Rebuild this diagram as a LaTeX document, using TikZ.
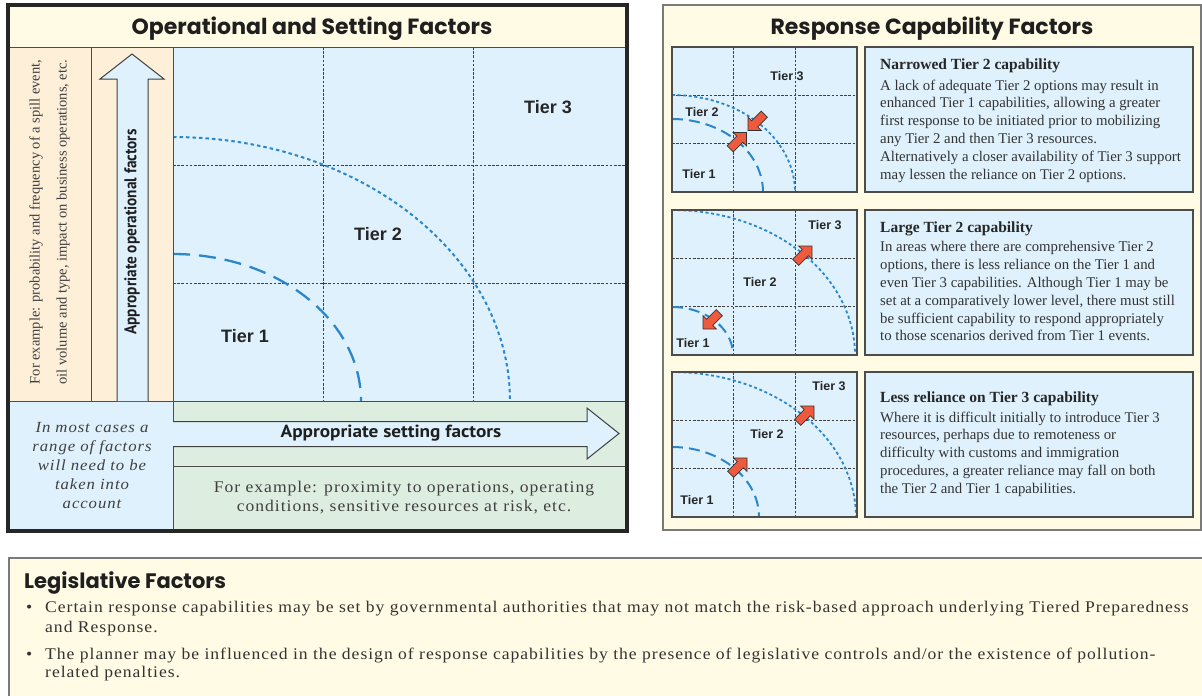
\documentclass[tikz,border=0pt]{standalone}
\usepackage{fontspec}
\setmainfont{Liberation Serif}
\newfontfamily\popfont{Poppins}
\newfontfamily\labfont[FakeStretch=1.1]{PT Sans}
\newfontfamily\condfont[FakeStretch=0.9]{PT Sans}
\newfontfamily\tierfont{Liberation Sans}
\newfontfamily\widefont[FakeStretch=1.08,LetterSpace=6]{Liberation Serif}
\definecolor{bandyellow}{HTML}{FFFBE4}
\definecolor{peach}{HTML}{FDEFD8}
\definecolor{lblue}{HTML}{DFF1FC}
\definecolor{lgreen}{HTML}{DDEEE1}
\definecolor{arcblue}{HTML}{2B87CB}
\definecolor{redarr}{HTML}{EE5A3D}
\definecolor{framec}{HTML}{262626}
\definecolor{gframe}{HTML}{7A7A7A}
\definecolor{txt}{HTML}{333333}
\newcommand\qell[5]{\draw[#1] plot[domain=90:0,samples=70] ({#2+#4*cos(\x)},{#3-#5*sin(\x)});}
\newcommand\redarr[3]{\begin{scope}[shift={(#1,#2)},rotate=#3]\draw[redarrow] (0,0) -- (-9.5,9.5) -- (-9.5,4.3) -- (-23,4.3) -- (-23,-4.3) -- (-9.5,-4.3) -- (-9.5,-9.5) -- cycle;\end{scope}}
\begin{document}
\begin{tikzpicture}[x=1pt,y=-1pt,
  every node/.style={inner sep=0pt, text=txt},
  thinline/.style={draw=black!70, line width=1pt},
  gridline/.style={draw=black!75, line width=0.75pt, dash pattern=on 2.6pt off 1.6pt},
  tierone/.style={draw=arcblue, line width=2.3pt, dash pattern=on 17pt off 9pt},
  tiertwo/.style={draw=arcblue, line width=2pt, dash pattern=on 3.5pt off 3pt},
  mtierone/.style={draw=arcblue, line width=2pt, dash pattern=on 11pt off 6pt},
  mtiertwo/.style={draw=arcblue, line width=1.8pt, dash pattern=on 3pt off 2.6pt},
  bigarrow/.style={fill=lblue, draw=black!75, line width=1pt, line join=miter},
  redarrow/.style={fill=redarr, draw=black!80, line width=0.7pt, line join=miter},
  bigtier/.style={font=\tierfont\bfseries\fontsize{18}{20}\selectfont, text=black!85},
  minitier/.style={font=\tierfont\bfseries\fontsize{12.5}{14}\selectfont, text=black!85},
  paneltitle/.style={font=\popfont\bfseries\fontsize{22}{26}\selectfont, text=black!88},
  boxtitle/.style={anchor=base west, font=\bfseries\fontsize{15.5}{17.8}\selectfont, text=black!85},
  boxbody/.style={anchor=north west, align=left, font=\fontsize{14.8}{17.8}\selectfont},
  minibox/.style={draw=black!70, line width=1.2pt},
  legline/.style={anchor=base west, font=\widefont\fontsize{16.3}{18}\selectfont}
]
\useasboundingbox (0,0) rectangle (1202,696);
\fill[white] (0,0) rectangle (1202,696);

% ---------------- left panel ----------------
\fill[bandyellow] (8,5) rectangle (627,47);
\fill[peach] (8,47) rectangle (173,401);
\fill[lblue] (173,47) rectangle (627,401);
\fill[lblue] (8,401) rectangle (173,531);
\fill[lgreen] (173,401) rectangle (627,531);
\draw[gridline] (323,47) -- (323,401) (473,47) -- (473,401)
                (173,165) -- (627,165) (173,283) -- (627,283);
\qell{tierone}{173}{401}{188}{147}
\qell{tiertwo}{173}{401}{337}{264}
\draw[thinline] (8,47) -- (627,47) (91,47) -- (91,401) (173,47) -- (173,531)
                (8,401) -- (627,401) (173,466) -- (627,466);
\node[paneltitle] (optitle) at (312,28.5) {Operational and Setting Factors};
\node[rotate=90, align=center, font=\fontsize{14.5}{27}\selectfont, text=black!75] (opex) at (49.5,222)
  {For example: probability and frequency of a spill event,\\oil volume and type, impact on business operations, etc.};
\draw[bigarrow] (117,401) -- (117,79) -- (100,79) -- (132,54) -- (164,79) -- (148,79) -- (148,401);
\node[rotate=90, font=\condfont\bfseries\fontsize{17}{19}\selectfont, text=black!88] (opfac) at (132,232) {Appropriate operational factors};
\draw[bigarrow] (173,421.5) -- (587,421.5) -- (587,408) -- (619,433.5) -- (587,459) -- (587,446.5) -- (173,446.5);
\node[font=\labfont\bfseries\fontsize{17.5}{19}\selectfont, text=black!88] (setfac) at (391,433.5) {Appropriate setting factors};
\node[align=center, font=\widefont\itshape\fontsize{15.5}{19}\selectfont, text=black!75] (range) at (92,466)
  {In most cases a\\range of factors\\will need to be\\taken into\\account};
\node[align=center, font=\widefont\fontsize{16.3}{19}\selectfont, text=black!75] (setex) at (404,498)
  {For example: proximity to operations, operating\\conditions, sensitive resources at risk, etc.};
\node[bigtier] (t3) at (548,107) {Tier 3};
\node[bigtier] (t2) at (378,234) {Tier 2};
\node[bigtier] (t1) at (245,336) {Tier 1};
\draw[framec, line width=3.5pt] (8,5) rectangle (627,531);

% ---------------- right panel ----------------
\draw[fill=bandyellow, draw=gframe, line width=1.4pt] (663,5) rectangle (1201,530);
\node[paneltitle] (rctitle) at (932,28.5) {Response Capability Factors};

% mini 1
\fill[lblue] (672,47) rectangle (857,192);
\draw[gridline] (733.7,47) -- (733.7,192) (795.3,47) -- (795.3,192) (672,95.3) -- (857,95.3) (672,143.7) -- (857,143.7);
\qell{mtierone}{672}{192}{91}{73}
\qell{mtiertwo}{672}{192}{123}{97}
\node[minitier] (a3) at (787,76) {Tier 3};
\node[minitier] (a2) at (702,112) {Tier 2};
\node[minitier] (a1) at (699,174) {Tier 1};
\redarr{748}{130.5}{225}
\redarr{746.5}{132.5}{45}
\draw[minibox] (672,47) rectangle (857,192);
\draw[minibox, fill=lblue] (865,47) rectangle (1193,192);
\node[boxtitle] (bt1) at (880,69.5) {Narrowed Tier 2 capability};
\node[boxbody] (bb1) at (880,79.5) {\rule{0pt}{10pt}A lack of adequate Tier 2 options may result in\\enhanced Tier 1 capabilities, allowing a greater\\first response to be initiated prior to mobilizing\\any Tier 2 and then Tier 3 resources.\\Alternatively a closer availability of Tier 3 support\\may lessen the reliance on Tier 2 options.};

% mini 2
\fill[lblue] (672,210) rectangle (857,355);
\draw[gridline] (733.7,210) -- (733.7,355) (795.3,210) -- (795.3,355) (672,258.3) -- (857,258.3) (672,306.7) -- (857,306.7);
\qell{mtierone}{672}{355}{61}{48}
\qell{mtiertwo}{672}{355}{183}{145}
\node[minitier] (b3) at (825,225) {Tier 3};
\node[minitier] (b2) at (760,282) {Tier 2};
\node[minitier] (b1) at (693,343) {Tier 1};
\redarr{812}{246}{45}
\redarr{703}{329}{225}
\draw[minibox] (672,210) rectangle (857,355);
\draw[minibox, fill=lblue] (865,210) rectangle (1193,355);
\node[boxtitle] (bt2) at (880,232.5) {Large Tier 2 capability};
\node[boxbody] (bb2) at (880,241.5) {\rule{0pt}{10pt}In areas where there are comprehensive Tier 2\\options, there is less reliance on the Tier 1 and\\even Tier 3 capabilities. Although Tier 1 may be\\set at a comparatively lower level, there must still\\be sufficient capability to respond appropriately\\to those scenarios derived from Tier 1 events.};

% mini 3
\fill[lblue] (672,372) rectangle (857,517);
\draw[gridline] (733.7,372) -- (733.7,517) (795.3,372) -- (795.3,517) (672,420.3) -- (857,420.3) (672,468.7) -- (857,468.7);
\qell{mtierone}{672}{517}{87}{70}
\qell{mtiertwo}{672}{517}{184}{145}
\node[minitier] (c3) at (829,386) {Tier 3};
\node[minitier] (c2) at (767,434) {Tier 2};
\node[minitier] (c1) at (697,500) {Tier 1};
\redarr{814}{406}{45}
\redarr{747}{458}{45}
\draw[minibox] (672,372) rectangle (857,517);
\draw[minibox, fill=lblue] (865,372) rectangle (1193,517);
\node[boxtitle] (bt3) at (880,402.5) {Less reliance on Tier 3 capability};
\node[boxbody] (bb3) at (880,411.5) {\rule{0pt}{10pt}Where it is difficult initially to introduce Tier 3\\resources, perhaps due to remoteness or\\difficulty with customs and immigration\\procedures, a greater reliance may fall on both\\the Tier 2 and Tier 1 capabilities.};

% ---------------- legislative ----------------
\draw[fill=bandyellow, draw=gframe, line width=1.4pt] (9,558) rectangle (1215,715);
\node[anchor=west, font=\popfont\bfseries\fontsize{21}{24}\selectfont, text=black!88] (legtitle) at (24,583) {Legislative Factors};
\node[legline] (b1) at (26,612) {\textbullet};
\node[legline] (l1) at (45,612) {Certain response capabilities may be set by governmental authorities that may not match the risk-based approach underlying Tiered Preparedness};
\node[legline] (l2) at (45,632) {and Response.};
\node[legline] (b2) at (26,659) {\textbullet};
\node[legline] (l3) at (45,659) {The planner may be influenced in the design of response capabilities by the presence of legislative controls and/or the existence of pollution-};
\node[legline] (l4) at (45,677) {related penalties.};
\end{tikzpicture}
\end{document}
